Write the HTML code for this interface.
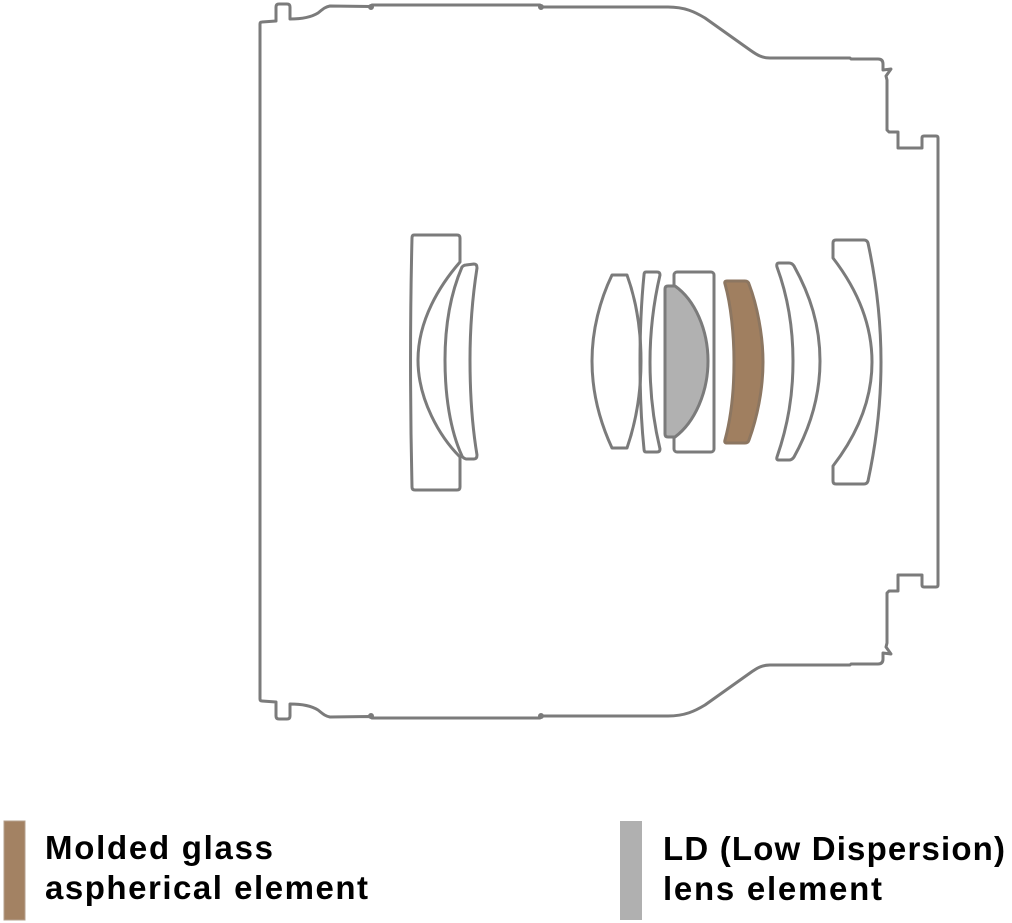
<!DOCTYPE html>
<html>
<head>
<meta charset="utf-8">
<style>
  html,body{margin:0;padding:0;background:#fff;}
  body{width:1012px;height:923px;overflow:hidden;}
  svg{display:block;}
  text{font-family:"Liberation Sans",Arial,sans-serif;font-weight:bold;font-size:33px;fill:#000;}
</style>
</head>
<body>
<svg width="1012" height="923" viewBox="0 0 1012 923" xmlns="http://www.w3.org/2000/svg">
  <g fill="none" stroke="#7b7b7b" stroke-width="3" stroke-linejoin="round" stroke-linecap="round">
    <!-- barrel outline: top half -->
    <path d="M260,362 L260,24 Q260,22 262,22 L276,21 L276,7 Q276,4 279,4 L287,4 Q290,4 290,7 L290,19 C300,19 310,18 318,13 C323,9 325,7 330,6 L370,6.5 L372,5 L540,5 L542,7 L668,7 C685,7 695,12 705,18 L750,50 C757,55 762,58 770,58 L850,58 L851,59 L878,59 Q883,59 883,64 L883,70 L891,69 L886,76 L887,80 L887,130 L889,132 L898,132 L898,148 L922,148 L922,138 Q922,136 924,136 L936,136 Q938,136 938,138 L938,362"/>
    <!-- bottom half mirrored -->
    <g transform="translate(0,723) scale(1,-1)">
      <path d="M260,362 L260,24 Q260,22 262,22 L276,21 L276,7 Q276,4 279,4 L287,4 Q290,4 290,7 L290,19 C300,19 310,18 318,13 C323,9 325,7 330,6 L370,6.5 L372,5 L540,5 L542,7 L668,7 C685,7 695,12 705,18 L750,50 C757,55 762,58 770,58 L850,58 L851,59 L878,59 Q883,59 883,64 L883,70 L891,69 L886,76 L887,80 L887,130 L889,132 L898,132 L898,148 L922,148 L922,138 Q922,136 924,136 L936,136 Q938,136 938,138 L938,362"/>
      <circle cx="371" cy="7" r="1.5" fill="#7b7b7b"/>
      <circle cx="541" cy="7" r="1.5" fill="#7b7b7b"/>
    </g>
    <circle cx="371" cy="7" r="1.5" fill="#7b7b7b"/>
    <circle cx="541" cy="7" r="1.5" fill="#7b7b7b"/>

    <!-- Element 1: plate with concave right side -->
    <path d="M414,235 L457,235 Q460,235 460,238 L460,262 C440,285 418,320 418,360 C418,400 440,437 460,457 L460,487 Q460,490 457,490 L415,490 Q412,490 412,487 C410,400 410,320 412,238 Q412,235 414,235 Z"/>
    <!-- Element 2: meniscus -->
    <path d="M462,267 Q464,265 466,265 L474,264 Q477,264 477,268 C472,300 470,330 470,360 C470,395 472,425 477,455 Q477,459 474,459 L466,459 Q463,458 462,456 C450,430 445,395 445,360 C445,325 450,295 462,267 Z"/>

    <!-- Lens A: biconvex -->
    <path d="M612,275 L627,275 C636,300 641,330 641,361 C641,392 636,422 627,448 L612,448 C600,422 592,392 592,361 C592,330 600,300 612,275 Z"/>
    <!-- Lens B: thin -->
    <path d="M646,272 L657,272 Q660,272 660,275 C653,305 650,335 650,362 C650,390 653,420 660,449 Q660,452 657,452 L646,452 Q644,452 644,449 C641,420 640,390 640,362 C640,335 641,305 644,275 Q644,272 646,272 Z"/>
    <!-- Rect C -->
    <rect x="674" y="272" width="40" height="180" rx="3"/>
    <!-- Gray LD lens D -->
    <path d="M668,286 L675,286 C695,300 708,330 708,361 C708,392 695,422 675,437 L668,437 Q665,437 665,434 L665,289 Q665,286 668,286 Z" fill="#b1b1b1"/>
    <!-- Brown aspherical E -->
    <path d="M727,281 L745,281 Q748,281 749,284 C757,305 763,335 763,362 C763,390 757,418 749,440 Q748,443 745,443 L727,443 Q724,443 725,440 C731,418 734,390 734,362 C734,335 731,305 725,284 Q724,281 727,281 Z" fill="#a07f60" stroke="#8c7661"/>
    <!-- Lens F: meniscus -->
    <path d="M779,263 L789,263 Q792,263 794,266 C810,295 820,325 820,361 C820,397 810,428 794,457 Q792,460 789,460 L779,460 Q776,460 777,457 C788,425 793,395 793,361 C793,327 788,297 777,267 Q776,263 779,263 Z"/>
    <!-- Element G -->
    <path d="M836,240 L864,240 Q867,240 868,243 C876,280 881,320 881,362 C881,404 876,444 868,481 Q867,484 864,484 L836,484 Q833,484 833,481 L833,466 C853,440 872,405 872,362 C872,319 853,284 833,258 L833,243 Q833,240 836,240 Z"/>
  </g>

  <!-- Legend -->
  <rect x="4" y="821" width="21" height="99" fill="#a38263" stroke="#b5a08c" stroke-width="1"/>
  <text x="45" y="859" textLength="228" lengthAdjust="spacing">Molded glass</text>
  <text x="45" y="899" textLength="323" lengthAdjust="spacing">aspherical element</text>

  <rect x="620" y="821" width="22" height="99" fill="#b0b0b0"/>
  <text x="663" y="860" textLength="342" lengthAdjust="spacing">LD (Low Dispersion)</text>
  <text x="663" y="900" textLength="219" lengthAdjust="spacing">lens element</text>
</svg>
</body>
</html>
